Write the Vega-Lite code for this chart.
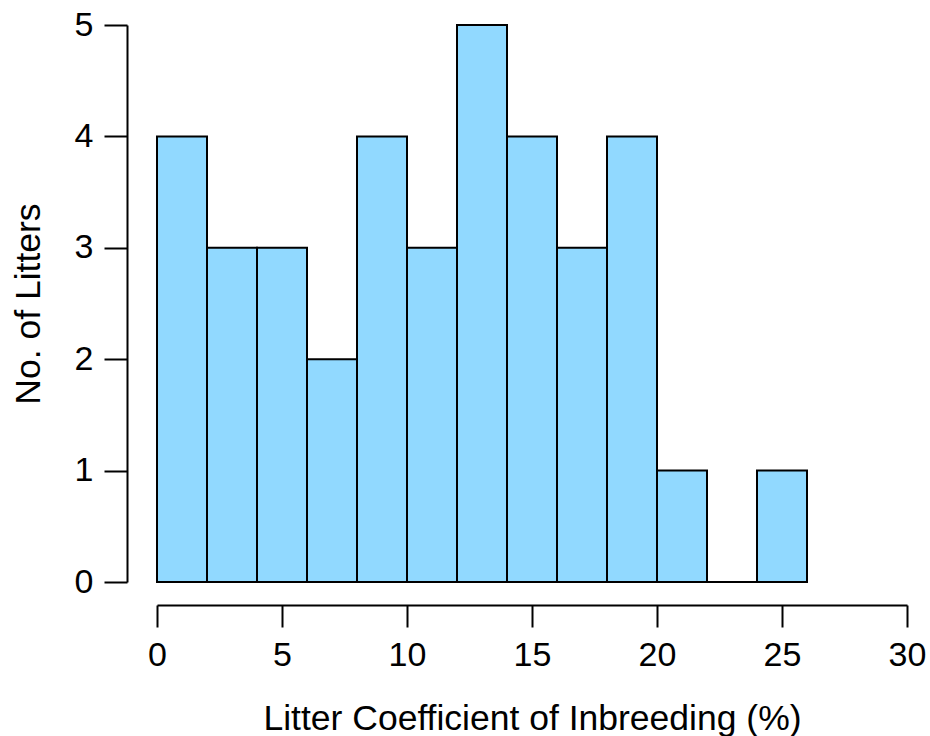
{
  "$schema": "https://vega.github.io/schema/vega-lite/v6.json",
  "width": 750,
  "height": 557,
  "autosize": {"type": "none"},
  "padding": {"left": 157, "top": 25, "right": 23, "bottom": 154},
  "background": "white",
  "config": {
    "view": {"stroke": null},
    "font": "Liberation Sans",
    "axis": {
      "grid": false,
      "domainColor": "#000",
      "domainWidth": 2,
      "tickColor": "#000",
      "tickWidth": 2,
      "labelFont": "Liberation Sans",
      "titleFont": "Liberation Sans",
      "labelFontSize": 34,
      "titleFontSize": 35.5,
      "labelColor": "#000",
      "titleColor": "#000",
      "titleFontWeight": "normal"
    }
  },
  "data": {
    "values": [
      {"start": 0, "end": 2, "count": 4},
      {"start": 2, "end": 4, "count": 3},
      {"start": 4, "end": 6, "count": 3},
      {"start": 6, "end": 8, "count": 2},
      {"start": 8, "end": 10, "count": 4},
      {"start": 10, "end": 12, "count": 3},
      {"start": 12, "end": 14, "count": 5},
      {"start": 14, "end": 16, "count": 4},
      {"start": 16, "end": 18, "count": 3},
      {"start": 18, "end": 20, "count": 4},
      {"start": 20, "end": 22, "count": 1},
      {"start": 22, "end": 24, "count": 0},
      {"start": 24, "end": 26, "count": 1}
    ]
  },
  "mark": {"type": "rect", "fill": "#91D9FF", "stroke": "#000", "strokeWidth": 2},
  "encoding": {
    "x": {
      "field": "start",
      "type": "quantitative",
      "scale": {"domain": [0, 30], "nice": false, "zero": false},
      "axis": {
        "title": "Litter Coefficient of Inbreeding (%)",
        "values": [0, 5, 10, 15, 20, 25, 30],
        "offset": 23,
        "tickSize": 22,
        "labelPadding": 11,
        "titlePadding": 29,
        "labelFlush": false,
        "labelOverlap": false
      }
    },
    "x2": {"field": "end"},
    "y": {
      "field": "count",
      "type": "quantitative",
      "scale": {"domain": [0, 5], "nice": false},
      "axis": {
        "title": "No. of Litters",
        "values": [0, 1, 2, 3, 4, 5],
        "offset": 30,
        "tickSize": 23,
        "labelPadding": 11,
        "titlePadding": 28,
        "labelFlush": false,
        "labelOverlap": false
      }
    },
    "y2": {"datum": 0}
  }
}
